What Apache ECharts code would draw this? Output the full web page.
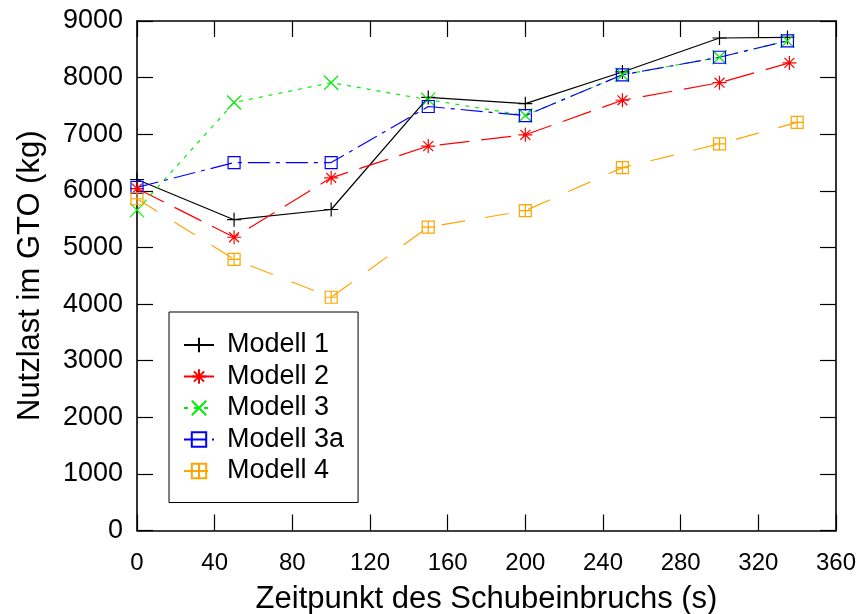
<!DOCTYPE html>
<html>
<head>
<meta charset="utf-8">
<script src="https://cdn.jsdelivr.net/npm/echarts@6/dist/echarts.min.js"></script>
<style>html,body{margin:0;padding:0;background:#fff}#c{width:860px;height:614px}</style>
</head>
<body>
<div id="c"></div>
<script>
const names = ['Modell 1', 'Modell 2', 'Modell 3', 'Modell 3a', 'Modell 4'];
const x1 = [0, 50, 100, 150, 200, 250, 300, 335];
const x2 = [0, 50, 100, 150, 200, 250, 300, 336];
const x3 = [0, 50, 100, 150, 200, 250, 300, 335];
const x3a = [0, 50, 100, 150, 200, 250, 300, 335];
const x4 = [0, 50, 100, 150, 200, 250, 300, 340];
const m1 = [6200, 5490, 5670, 7650, 7540, 8100, 8700, 8710];
const m2 = [6040, 5180, 6230, 6790, 6990, 7600, 7910, 8260];
const m3 = [5660, 7560, 7910, 7610, 7330, 8050, 8360, 8650];
const m3a = [6060, 6500, 6500, 7490, 7330, 8050, 8360, 8650];
const m4 = [5860, 4790, 4120, 5360, 5650, 6410, 6830, 7210];

const FONT = 'Liberation Sans';
const symPlus = 'path://M5,0L5,10M0,5L10,5';
const symStar = 'path://M5,0L5,10M0,5L10,5M1.46,1.46L8.54,8.54M8.54,1.46L1.46,8.54';
const symX = 'path://M0,0L10,10M10,0L0,10';
const symBox = 'path://M0,0L10,0L10,10L0,10Z';
const symBoxPlus = 'path://M0,0L10,0L10,10L0,10Z M5,0L5,10M0,5L10,5';

function zip(xs, ys) { return xs.map((x, i) => [x, ys[i]]); }
function mk(name, xs, ys, color, sym, size, dash) {
  return {
    name: name, type: 'line', data: zip(xs, ys),
    symbol: sym, symbolSize: size, showAllSymbol: true,
    lineStyle: { color: color, width: 1.2, type: dash },
    itemStyle: { color: 'rgba(0,0,0,0)', borderColor: color, borderWidth: 1.2 },
    emphasis: { disabled: true },
    animation: false
  };
}
const axisCommon = {
  type: 'value',
  axisLine: { show: true, onZero: false, lineStyle: { color: '#000', width: 1.6 } },
  axisTick: { show: true, inside: true, length: 16, lineStyle: { color: '#000', width: 1.2 } },
  splitLine: { show: false }
};
const chart = echarts.init(document.getElementById('c'), null, { renderer: 'canvas' });
chart.setOption({
  animation: false,
  backgroundColor: '#fff',
  grid: { left: 137, right: 24, top: 21, bottom: 83.5, containLabel: false, outerBoundsMode: 'none' },
  legend: {
    orient: 'vertical', left: 169, top: 312,
    data: names,
    backgroundColor: '#fff', borderColor: '#000', borderWidth: 1,
    padding: [19.5, 14, 18, 14],
    itemWidth: 30, itemHeight: 18, itemGap: 4.5,
    textStyle: { fontFamily: FONT, fontSize: 27, color: '#000', padding: [0, 0, 0, 8] },
    selectedMode: false
  },
  xAxis: [
    Object.assign({}, axisCommon, {
      min: 0, max: 360, interval: 40, position: 'bottom',
      axisLabel: { fontFamily: FONT, fontSize: 24, color: '#000', margin: 21 },
      name: 'Zeitpunkt des Schubeinbruchs (s)', nameLocation: 'middle', nameGap: 53,
      nameTextStyle: { fontFamily: FONT, fontSize: 31, color: '#000' }
    }),
    Object.assign({}, axisCommon, {
      min: 0, max: 360, interval: 40, position: 'top',
      axisLabel: { show: false }
    })
  ],
  yAxis: [
    Object.assign({}, axisCommon, {
      min: 0, max: 9000, interval: 1000, position: 'left',
      axisLabel: { fontFamily: FONT, fontSize: 27, color: '#000', margin: 14, formatter: v => String(v) },
      name: 'Nutzlast im GTO (kg)', nameLocation: 'middle', nameGap: 91,
      nameTextStyle: { fontFamily: FONT, fontSize: 31, color: '#000' }
    }),
    Object.assign({}, axisCommon, {
      min: 0, max: 9000, interval: 1000, position: 'right',
      axisLabel: { show: false }
    })
  ],
  series: [
    mk(names[0], x1, m1, '#000000', symPlus, 14, 'solid'),
    mk(names[1], x2, m2, '#ff0000', symStar, 14, [30, 12]),
    mk(names[2], x3, m3, '#00ee00', symX, 14, [4, 6]),
    mk(names[3], x3a, m3a, '#0000ff', symBox, 12, [22, 6, 4, 6]),
    mk(names[4], x4, m4, '#ffa500', symBoxPlus, 12, [24, 20])
  ]
});
</script>
</body>
</html>
